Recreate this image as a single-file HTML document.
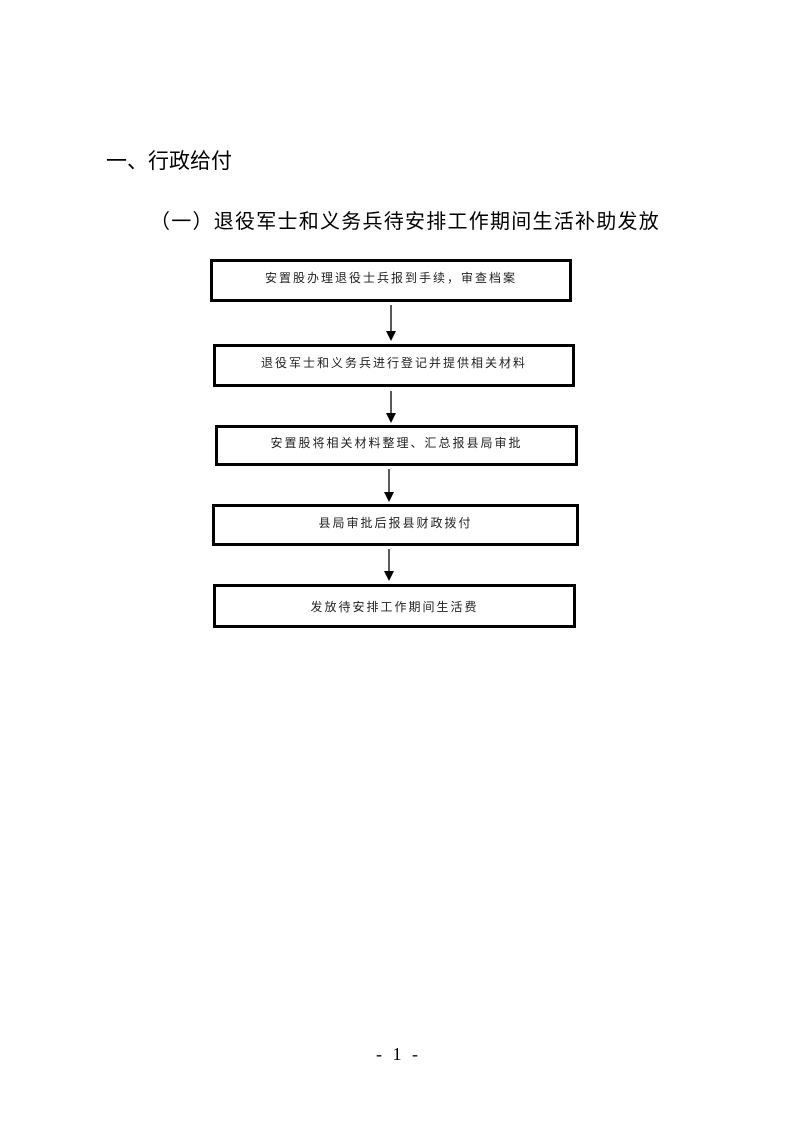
<!DOCTYPE html>
<html><head><meta charset="utf-8"><style>
body{margin:0;width:793px;height:1122px;background:#fff;position:relative;font-family:"Liberation Serif","Noto Serif CJK SC",serif;color:#000}
.t{position:absolute;white-space:nowrap}
.b{position:absolute;border:3px solid #000;box-sizing:border-box;display:flex;align-items:center;justify-content:center;font-family:"Liberation Sans","Noto Sans CJK SC",sans-serif;font-size:12px;letter-spacing:2px;color:#222}
</style></head><body>
<div class="t" style="left:106px;top:145px;font-size:21px;font-family:'Liberation Sans','Noto Sans CJK SC',sans-serif;">一、行政给付</div>
<div class="t" style="left:150px;top:205px;font-size:20px;letter-spacing:1.25px;font-family:'Liberation Sans','Noto Sans CJK SC',sans-serif;">（一）退役军士和义务兵待安排工作期间生活补助发放</div>
<div class="b" style="left:210px;top:259px;width:362px;height:43px;padding-bottom:6px">安置股办理退役士兵报到手续，审查档案</div>
<div class="b" style="left:213px;top:344px;width:362px;height:43px;padding-bottom:6px">退役军士和义务兵进行登记并提供相关材料</div>
<div class="b" style="left:215px;top:425px;width:363px;height:41px;padding-bottom:6px">安置股将相关材料整理、汇总报县局审批</div>
<div class="b" style="left:212px;top:504px;width:367px;height:42px;padding-bottom:6px">县局审批后报县财政拨付</div>
<div class="b" style="left:213px;top:584px;width:363px;height:44px">发放待安排工作期间生活费</div>
<svg width="793" height="1122" style="position:absolute;left:0;top:0" fill="#000" stroke="#000">
<line x1="391" y1="305" x2="391" y2="332" stroke-width="1.3"/><polygon points="386,331 396,331 391,341" stroke="none"/>
<line x1="391" y1="391" x2="391" y2="414" stroke-width="1.3"/><polygon points="386,413 396,413 391,423" stroke="none"/>
<line x1="389" y1="469" x2="389" y2="493" stroke-width="1.3"/><polygon points="384,492 394,492 389,502" stroke="none"/>
<line x1="389" y1="549" x2="389" y2="572" stroke-width="1.3"/><polygon points="384,571 394,571 389,581" stroke="none"/>
</svg>
<div class="t" style="left:376px;top:1044px;font-size:18px;letter-spacing:3px">- 1 -</div>
</body></html>
